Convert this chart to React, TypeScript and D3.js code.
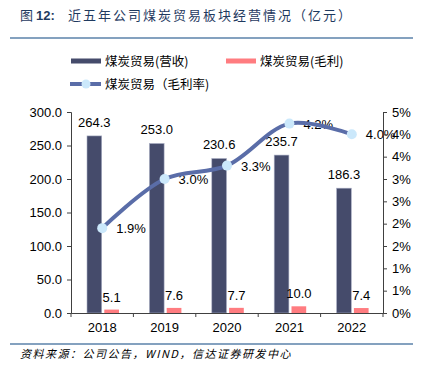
import React, { useRef, useEffect } from "react";
import * as d3 from "d3";

const years = ["2018", "2019", "2020", "2021", "2022"];
const revenue = [264.3, 253.0, 230.6, 235.7, 186.3];
const profit = [5.1, 7.6, 7.7, 10.0, 7.4];
const margin = [0.019, 0.03, 0.033, 0.0424, 0.04];
const marginLabels = ["1.9%", "3.0%", "3.3%", "4.2%", "4.0%"];
const leftTicks = [0, 50, 100, 150, 200, 250, 300];
const rightTicks = [0, 0.005, 0.01, 0.015, 0.02, 0.025, 0.03, 0.035, 0.04, 0.045];
const rightTickLabels = ["0%", "1%", "1%", "2%", "2%", "3%", "3%", "4%", "4%", "5%"];

const FONT = "'Liberation Sans', Arial, 'Noto Sans CJK SC', sans-serif";
const CJK = "'Noto Sans CJK SC', 'Liberation Sans', sans-serif";
const DARK = "#454b6b";
const PINK = "#ff7c80";
const LINE = "#5a6da8";
const DOT = "#cbe8fb";

const App = () => {
  const ref = useRef<SVGSVGElement | null>(null);

  useEffect(() => {
    if (!ref.current) return;
    const svg = d3.select(ref.current);
    svg.selectAll("*").remove();

    const left = 71,
      right = 383,
      top = 112,
      bottom = 313;

    // title
    const title = svg
      .append("text")
      .attr("x", 20)
      .attr("y", 20)
      .attr("fill", "#1f3a5f")
      .style("font-size", "13px");
    title
      .append("tspan")
      .style("font-family", CJK)
      .text("图 ");
    title
      .append("tspan")
      .style("font-family", FONT)
      .style("font-weight", "bold")
      .text("12:");
    title
      .append("tspan")
      .attr("x", 68)
      .style("font-family", CJK)
      .style("letter-spacing", "2px")
      .text("近五年公司煤炭贸易板块经营情况（亿元）");

    svg
      .append("line")
      .attr("x1", 10)
      .attr("x2", 413)
      .attr("y1", 38)
      .attr("y2", 38)
      .attr("stroke", "#5b82aa")
      .attr("stroke-width", 1.5);

    // legend
    const lg = svg.append("g").style("font-family", CJK).style("font-size", "12.5px");
    lg.append("rect").attr("x", 71).attr("y", 58.5).attr("width", 30).attr("height", 5).attr("fill", DARK);
    lg.append("text").attr("x", 105).attr("y", 65.5).attr("fill", "#000").text("煤炭贸易(营收)");
    lg.append("rect").attr("x", 226).attr("y", 58.5).attr("width", 30).attr("height", 5).attr("fill", PINK);
    lg.append("text").attr("x", 260).attr("y", 65.5).attr("fill", "#000").text("煤炭贸易(毛利)");
    lg.append("line").attr("x1", 70).attr("x2", 101).attr("y1", 84).attr("y2", 84).attr("stroke", LINE).attr("stroke-width", 4);
    lg.append("circle").attr("cx", 86).attr("cy", 84).attr("r", 4.5).attr("fill", DOT);
    lg.append("text").attr("x", 105).attr("y", 89).attr("fill", "#000").text("煤炭贸易（毛利率)");

    const x = d3.scaleBand().domain(years).range([left, right]).padding(0);
    const xi = d3.scaleBand().domain(["rev", "profit"]).range([16, 48]).paddingInner(0.15);
    const y = d3.scaleLinear().domain([0, 300]).range([bottom, top]);
    const y2 = d3.scaleLinear().domain([0, 0.045]).range([bottom, top]);

    const chart = svg.append("g");

    // bars
    chart
      .selectAll(".rev")
      .data(years)
      .enter()
      .append("rect")
      .attr("x", (d) => x(d)! + xi("rev")!)
      .attr("y", (d, i) => y(revenue[i]))
      .attr("width", xi.bandwidth())
      .attr("height", (d, i) => bottom - y(revenue[i]))
      .attr("fill", DARK)
      .attr("stroke", "#a9aec4")
      .attr("stroke-width", 0.6);
    chart
      .selectAll(".profit")
      .data(years)
      .enter()
      .append("rect")
      .attr("x", (d) => x(d)! + xi("profit")!)
      .attr("y", (d, i) => y(profit[i]))
      .attr("width", xi.bandwidth())
      .attr("height", (d, i) => bottom - y(profit[i]))
      .attr("fill", PINK);

    const labels = chart.append("g").style("font-family", FONT).style("font-size", "13px").attr("fill", "#000");
    labels
      .selectAll(".revl")
      .data(years)
      .enter()
      .append("text")
      .attr("text-anchor", "middle")
      .attr("x", (d) => x(d)! + xi("rev")! + xi.bandwidth() / 2)
      .attr("y", (d, i) => y(revenue[i]) - 9)
      .text((d, i) => revenue[i].toFixed(1));
    labels
      .selectAll(".profl")
      .data(years)
      .enter()
      .append("text")
      .attr("text-anchor", "middle")
      .attr("x", (d) => x(d)! + xi("profit")! + xi.bandwidth() / 2)
      .attr("y", (d, i) => y(profit[i]) - 8)
      .text((d, i) => profit[i].toFixed(1));

    // axes
    const axisColor = "#404040";
    const la = chart
      .append("g")
      .attr("transform", `translate(${left},0)`)
      .call(d3.axisLeft(y).tickValues(leftTicks).tickFormat((d) => (+d).toFixed(1)).tickSizeOuter(0).tickSize(4));
    const ra = chart
      .append("g")
      .attr("transform", `translate(${right},0)`)
      .call(
        d3
          .axisRight(y2)
          .tickValues(rightTicks)
          .tickFormat((d, i) => rightTickLabels[i])
          .tickSizeOuter(0)
          .tickSize(4)
      );
    const xa = chart
      .append("g")
      .attr("transform", `translate(0,${bottom})`)
      .call(d3.axisBottom(x).tickSize(0).tickSizeOuter(0));
    // category separator ticks
    chart
      .selectAll(".sep")
      .data(d3.range(years.length + 1))
      .enter()
      .append("line")
      .attr("x1", (d) => left + d * x.step())
      .attr("x2", (d) => left + d * x.step())
      .attr("y1", bottom)
      .attr("y2", bottom + 4)
      .attr("stroke", axisColor);

    [la, ra, xa].forEach((a) => {
      a.selectAll("path, line").attr("stroke", axisColor);
      a.selectAll("text").style("font-family", FONT).style("font-size", "13px").attr("fill", "#000");
    });
    la.selectAll("text").attr("x", -9);
    ra.selectAll("text").attr("x", 9);
    xa.selectAll("text").attr("dy", "1.25em");

    // margin line
    const pts: [number, number][] = years.map((d, i) => [x(d)! + x.bandwidth() / 2, y2(margin[i])]);
    chart
      .append("path")
      .attr("d", d3.line().curve(d3.curveCatmullRom.alpha(0.5))(pts))
      .attr("fill", "none")
      .attr("stroke", LINE)
      .attr("stroke-width", 4);
    chart
      .selectAll(".dot")
      .data(pts)
      .enter()
      .append("circle")
      .attr("cx", (d) => d[0])
      .attr("cy", (d) => d[1])
      .attr("r", 5)
      .attr("fill", DOT);
    labels
      .selectAll(".ml")
      .data(pts)
      .enter()
      .append("text")
      .attr("x", (d) => d[0] + 14)
      .attr("y", (d) => d[1] + 5)
      .text((d, i) => marginLabels[i]);

    // footer
    svg
      .append("line")
      .attr("x1", 10)
      .attr("x2", 413)
      .attr("y1", 344)
      .attr("y2", 344)
      .attr("stroke", "#5b82aa")
      .attr("stroke-width", 1.5);
    svg
      .append("text")
      .attr("x", 20)
      .attr("y", 358)
      .style("font-family", CJK)
      .style("font-size", "11px")
      .style("font-style", "italic")
      .style("letter-spacing", "1.5px")
      .attr("fill", "#000")
      .text("资料来源：公司公告，WIND，信达证券研发中心");
  }, []);

  return (
    <svg
      ref={ref}
      width={424}
      height={365}
      style={{ position: "absolute", left: 0, top: 0, background: "#fff" }}
    />
  );
};

export default App;
